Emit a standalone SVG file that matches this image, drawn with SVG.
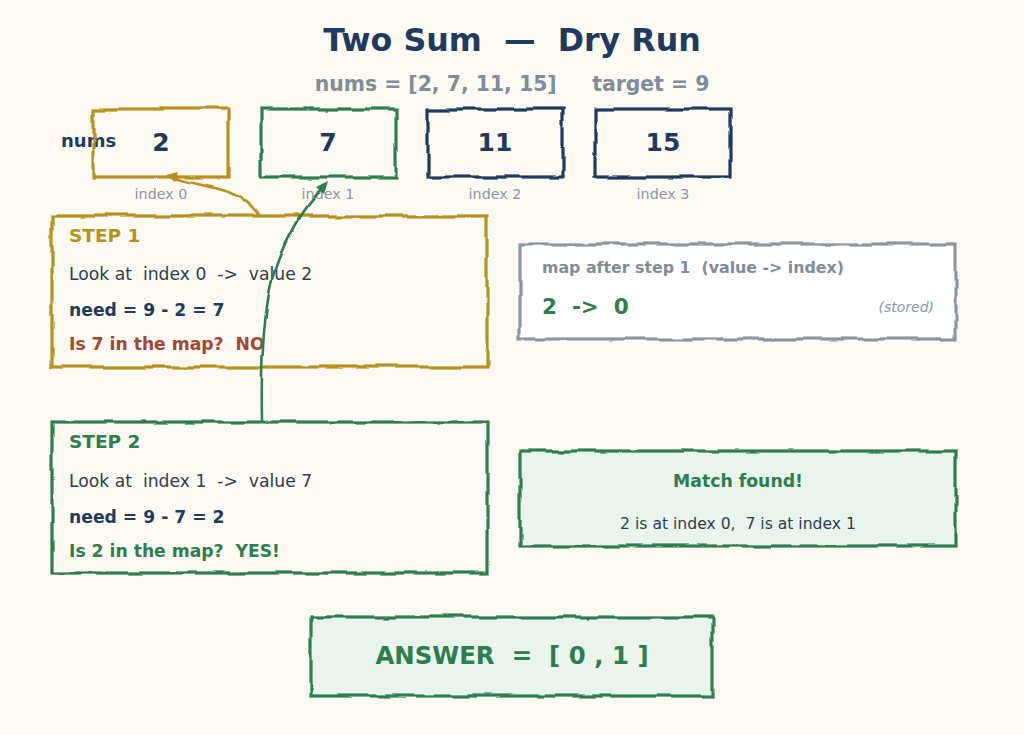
<svg xmlns="http://www.w3.org/2000/svg" width="1024" height="735" viewBox="0 0 1024 735">
<defs>
<filter id="rough" x="-5%" y="-15%" width="110%" height="130%">
<feTurbulence type="fractalNoise" baseFrequency="0.04" numOctaves="1" seed="3" result="n"/>
<feDisplacementMap in="SourceGraphic" in2="n" scale="7" xChannelSelector="R" yChannelSelector="G"/>
</filter>
<filter id="roughL" x="-20%" y="-5%" width="140%" height="110%">
<feTurbulence type="fractalNoise" baseFrequency="0.04" numOctaves="1" seed="7" result="n"/>
<feDisplacementMap in="SourceGraphic" in2="n" scale="5" xChannelSelector="R" yChannelSelector="G"/>
</filter>
<style>
text{font-family:"DejaVu Sans","Liberation Sans",sans-serif;white-space:pre}
.box{stroke-width:3.2;filter:url(#rough)}
.gold{stroke:#b8901e}
.green{stroke:#2e7d4f}
.navy{stroke:#1f3a5f}
.gray{stroke:#8a96a3}
.val{font-size:25px;font-weight:bold;fill:#1f3a5f;text-anchor:middle}
.idx{font-size:14.3px;fill:#8a96a3;text-anchor:middle}
.hd{font-size:18.5px;font-weight:bold}
.t{font-size:17.2px;fill:#2c3e50}
.b{font-size:17.2px;font-weight:bold}
</style>
</defs>
<rect width="1024" height="735" fill="#fdfaf3"/>
<g id="title">
<text x="512" y="51" text-anchor="middle" font-size="31.7" font-weight="bold" fill="#1f3a5f">Two Sum  —  Dry Run</text>
<text x="512" y="91" text-anchor="middle" font-size="20.4" font-weight="bold" fill="#7f8c9a">nums = [2, 7, 11, 15]     target = 9</text>
</g>
<g id="nums-label"><text x="61" y="147" font-size="18" font-weight="bold" fill="#1f3a5f">nums</text></g>
<g id="num0">
<rect class="box gold" x="93" y="109" width="135" height="68" fill="none"/>
<text class="val" x="161" y="151">2</text>
<text class="idx" x="161" y="199">index 0</text>
</g>
<g id="num1">
<rect class="box green" x="261" y="109" width="135" height="68" fill="none"/>
<text class="val" x="328" y="151">7</text>
<text class="idx" x="328" y="199">index 1</text>
</g>
<g id="num2">
<rect class="box navy" x="428" y="109" width="135" height="68" fill="none"/>
<text class="val" x="495" y="151">11</text>
<text class="idx" x="495" y="199">index 2</text>
</g>
<g id="num3">
<rect class="box navy" x="595" y="109" width="135" height="68" fill="none"/>
<text class="val" x="663" y="151">15</text>
<text class="idx" x="663" y="199">index 3</text>
</g>
<g id="step1">
<rect class="box gold" x="52" y="216" width="435" height="151" fill="#fdfaf3"/>
<text class="hd" x="69" y="242" fill="#b8901e">STEP 1</text>
<text class="t" x="69" y="280">Look at  index 0  -&gt;  value 2</text>
<text class="b" x="69" y="316" fill="#1f3a5f">need = 9 - 2 = 7</text>
<text class="b" x="69" y="350" fill="#a94432">Is 7 in the map?  NO</text>
</g>
<g id="map">
<rect class="box gray" x="520" y="244" width="436" height="95" fill="#ffffff"/>
<text x="542" y="273" font-size="15.8" font-weight="bold" fill="#7f8c9a">map after step 1  (value -&gt; index)</text>
<text x="542" y="314" font-size="21.5" font-weight="bold" fill="#2e7d4f">2  -&gt;  0</text>
<text x="934" y="312" text-anchor="end" font-size="14" font-style="italic" fill="#8a96a3">(stored)</text>
</g>
<g id="step2">
<rect class="box green" x="52" y="422" width="435" height="151" fill="#fdfaf3"/>
<text class="hd" x="69" y="448" fill="#2e7d4f">STEP 2</text>
<text class="t" x="69" y="487">Look at  index 1  -&gt;  value 7</text>
<text class="b" x="69" y="523" fill="#1f3a5f">need = 9 - 7 = 2</text>
<text class="b" x="69" y="557" fill="#2e7d4f">Is 2 in the map?  YES!</text>
</g>
<g id="match">
<rect class="box green" x="520" y="451" width="436" height="95" fill="#e8f4ec"/>
<text x="738" y="487" text-anchor="middle" font-size="17.3" font-weight="bold" fill="#2e7d4f">Match found!</text>
<text x="738" y="529" text-anchor="middle" font-size="15.6" fill="#2c3e50">2 is at index 0,  7 is at index 1</text>
</g>
<g id="answer">
<rect class="box green" x="311" y="617" width="402" height="79" fill="#e8f4ec"/>
<text x="512" y="664" text-anchor="middle" font-size="24.4" font-weight="bold" fill="#2e7d4f">ANSWER  =  [ 0 , 1 ]</text>
</g>
<g id="connectors" fill="none" stroke-width="2.6" stroke-linecap="round">
<path d="M259,215 C250,200 238,194 215,188 C195,183 182,181 172,177" stroke="#b8901e" filter="url(#roughL)"/>
<polygon points="166,175 178,172 175,182" fill="#b8901e"/>
<path d="M262,420 C261,370 262,320 272,280 C282,240 305,205 323,187" stroke="#2e7d4f" filter="url(#roughL)"/>
<polygon points="328,181 324,194 316,187" fill="#2e7d4f"/>
</g>
</svg>
